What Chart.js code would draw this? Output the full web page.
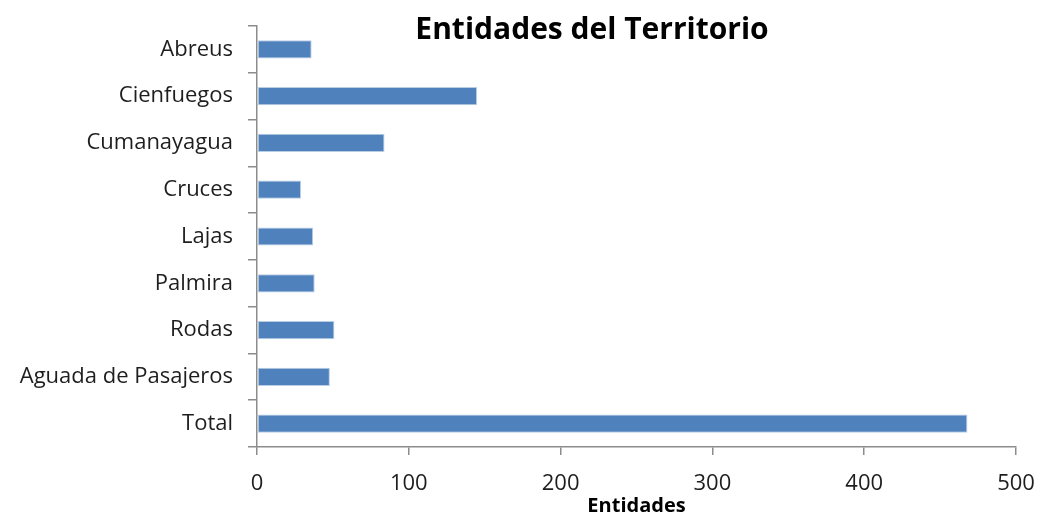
<!DOCTYPE html>
<html lang="es">
<head>
<meta charset="UTF-8">
<title>Entidades del Territorio</title>
<script src="https://cdn.jsdelivr.net/npm/chart.js@4.4.1/dist/chart.umd.min.js"></script>
<style>
  html, body { margin: 0; padding: 0; background: #ffffff; }
  #wrap { position: relative; width: 1039px; height: 518px; }
</style>
</head>
<body>
<div id="wrap"><canvas id="chart" width="1039" height="518"></canvas></div>
<script>
// data
const municipios = ['Abreus', 'Cienfuegos', 'Cumanayagua', 'Cruces', 'Lajas', 'Palmira', 'Rodas', 'Aguada de Pasajeros', 'Total'];
const entidades = [36, 145, 84, 29, 37, 38, 51, 48, 468];
const xTicks = [0, 100, 200, 300, 400, 500];

const axisGray = '#8c8c8c';
const textColor = '#1e1e1e';
const fontFamily = '"Open Sans", "Liberation Sans", sans-serif';

// title sits over the plot area like in the original
const titlePlugin = {
  id: 'overTitle',
  afterDraw(chart) {
    const ctx = chart.ctx;
    ctx.save();
    ctx.font = 'bold 30px ' + fontFamily;
    ctx.fillStyle = '#000';
    ctx.textAlign = 'center';
    ctx.textBaseline = 'middle';
    ctx.fillText('Entidades del Territorio', 592, 30);
    ctx.restore();
  }
};

new Chart(document.getElementById('chart'), {
  type: 'bar',
  data: {
    labels: municipios,
    datasets: [{
      label: 'Entidades',
      data: entidades,
      backgroundColor: '#4f81bd',
      borderColor: '#b9cde5',
      borderWidth: 1,
      borderSkipped: false,
      categoryPercentage: 1,
      barPercentage: 0.39
    }]
  },
  options: {
    indexAxis: 'y',
    responsive: false,
    animation: false,
    layout: { padding: { top: 26, right: 23, bottom: 0, left: 0 } },
    plugins: {
      legend: { display: false },
      tooltip: { enabled: false }
    },
    scales: {
      x: {
        min: 0,
        max: 500,
        afterBuildTicks(scale) { scale.ticks = xTicks.map(v => ({ value: v })); },
        afterFit(scale) {
          scale.height = 71;
          scale.paddingLeft = 0;
          scale.paddingRight = 0;
        },
        border: { display: true, color: axisGray, width: 1.5 },
        grid: { drawOnChartArea: false, drawTicks: true, tickLength: 8, color: axisGray, lineWidth: 1.5 },
        ticks: { color: textColor, font: { family: fontFamily, size: 22 }, padding: 16 },
        title: {
          display: true,
          text: 'Entidades',
          color: '#000',
          font: { family: fontFamily, size: 20, weight: 'bold' },
          padding: { top: -10, bottom: 0 }
        }
      },
      y: {
        offset: true,
        afterFit(scale) {
          scale.width = 257;
          scale.paddingTop = 0;
          scale.paddingBottom = 0;
        },
        border: { display: true, color: axisGray, width: 1.5 },
        grid: { drawOnChartArea: false, drawTicks: true, tickLength: 9, color: axisGray, lineWidth: 1.5, offset: true },
        ticks: { color: textColor, font: { family: fontFamily, size: 22 }, padding: 15 }
      }
    }
  },
  plugins: [titlePlugin]
});
</script>
</body>
</html>
